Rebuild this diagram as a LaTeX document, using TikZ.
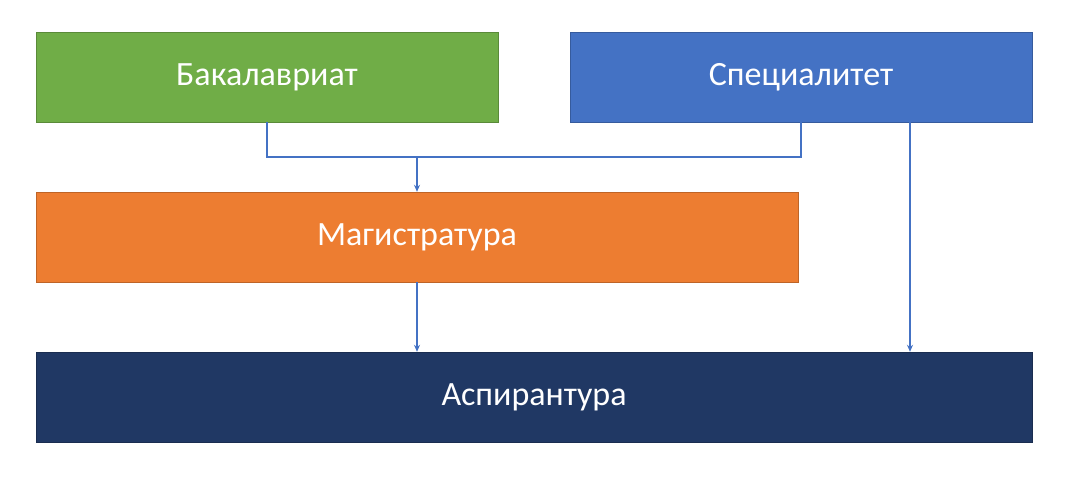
\documentclass[tikz,border=0pt]{standalone}
\usepackage{fontspec}
\setmainfont{Carlito}
\usetikzlibrary{arrows.meta}
\definecolor{bakgreen}{HTML}{70AD47}
\definecolor{specblue}{HTML}{4472C4}
\definecolor{magorange}{HTML}{ED7D31}
\definecolor{aspnavy}{HTML}{203864}
\tikzset{
  level/.style={draw=#1!80!black,fill=#1,text=white,inner sep=0pt,
    font=\fontsize{34}{40}\selectfont},
  link/.style={specblue,line width=1.3pt,-{Stealth[length=7pt,width=6pt]}}
}
\begin{document}
\begin{tikzpicture}[x=1pt,y=-1pt]
   \useasboundingbox (0,0) rectangle (1070,482);
   \node [level=bakgreen,minimum width=462pt,minimum height=90pt] (bak) at (267,77) {Бакалавриат};
   \node [level=specblue,minimum width=462pt,minimum height=90pt] (spec) at (801,77) {Специалитет};
   \node [level=magorange,minimum width=762pt,minimum height=90pt] (mag) at (417,237) {Магистратура};
   \node [level=aspnavy,minimum width=996pt,minimum height=90pt] (asp) at (534,397) {Аспирантура};
   \coordinate (join) at (417,157);
   \draw [specblue,line width=1.3pt] (bak.south) |- (join) -| (spec.south);
   \draw [link] (join) -- (mag.north);
   \draw [link] (mag.south) -- (asp.north -| mag.south);
   \draw [link] (spec.south -| 910,0) -- (asp.north -| 910,0);
\end{tikzpicture}
\end{document}
